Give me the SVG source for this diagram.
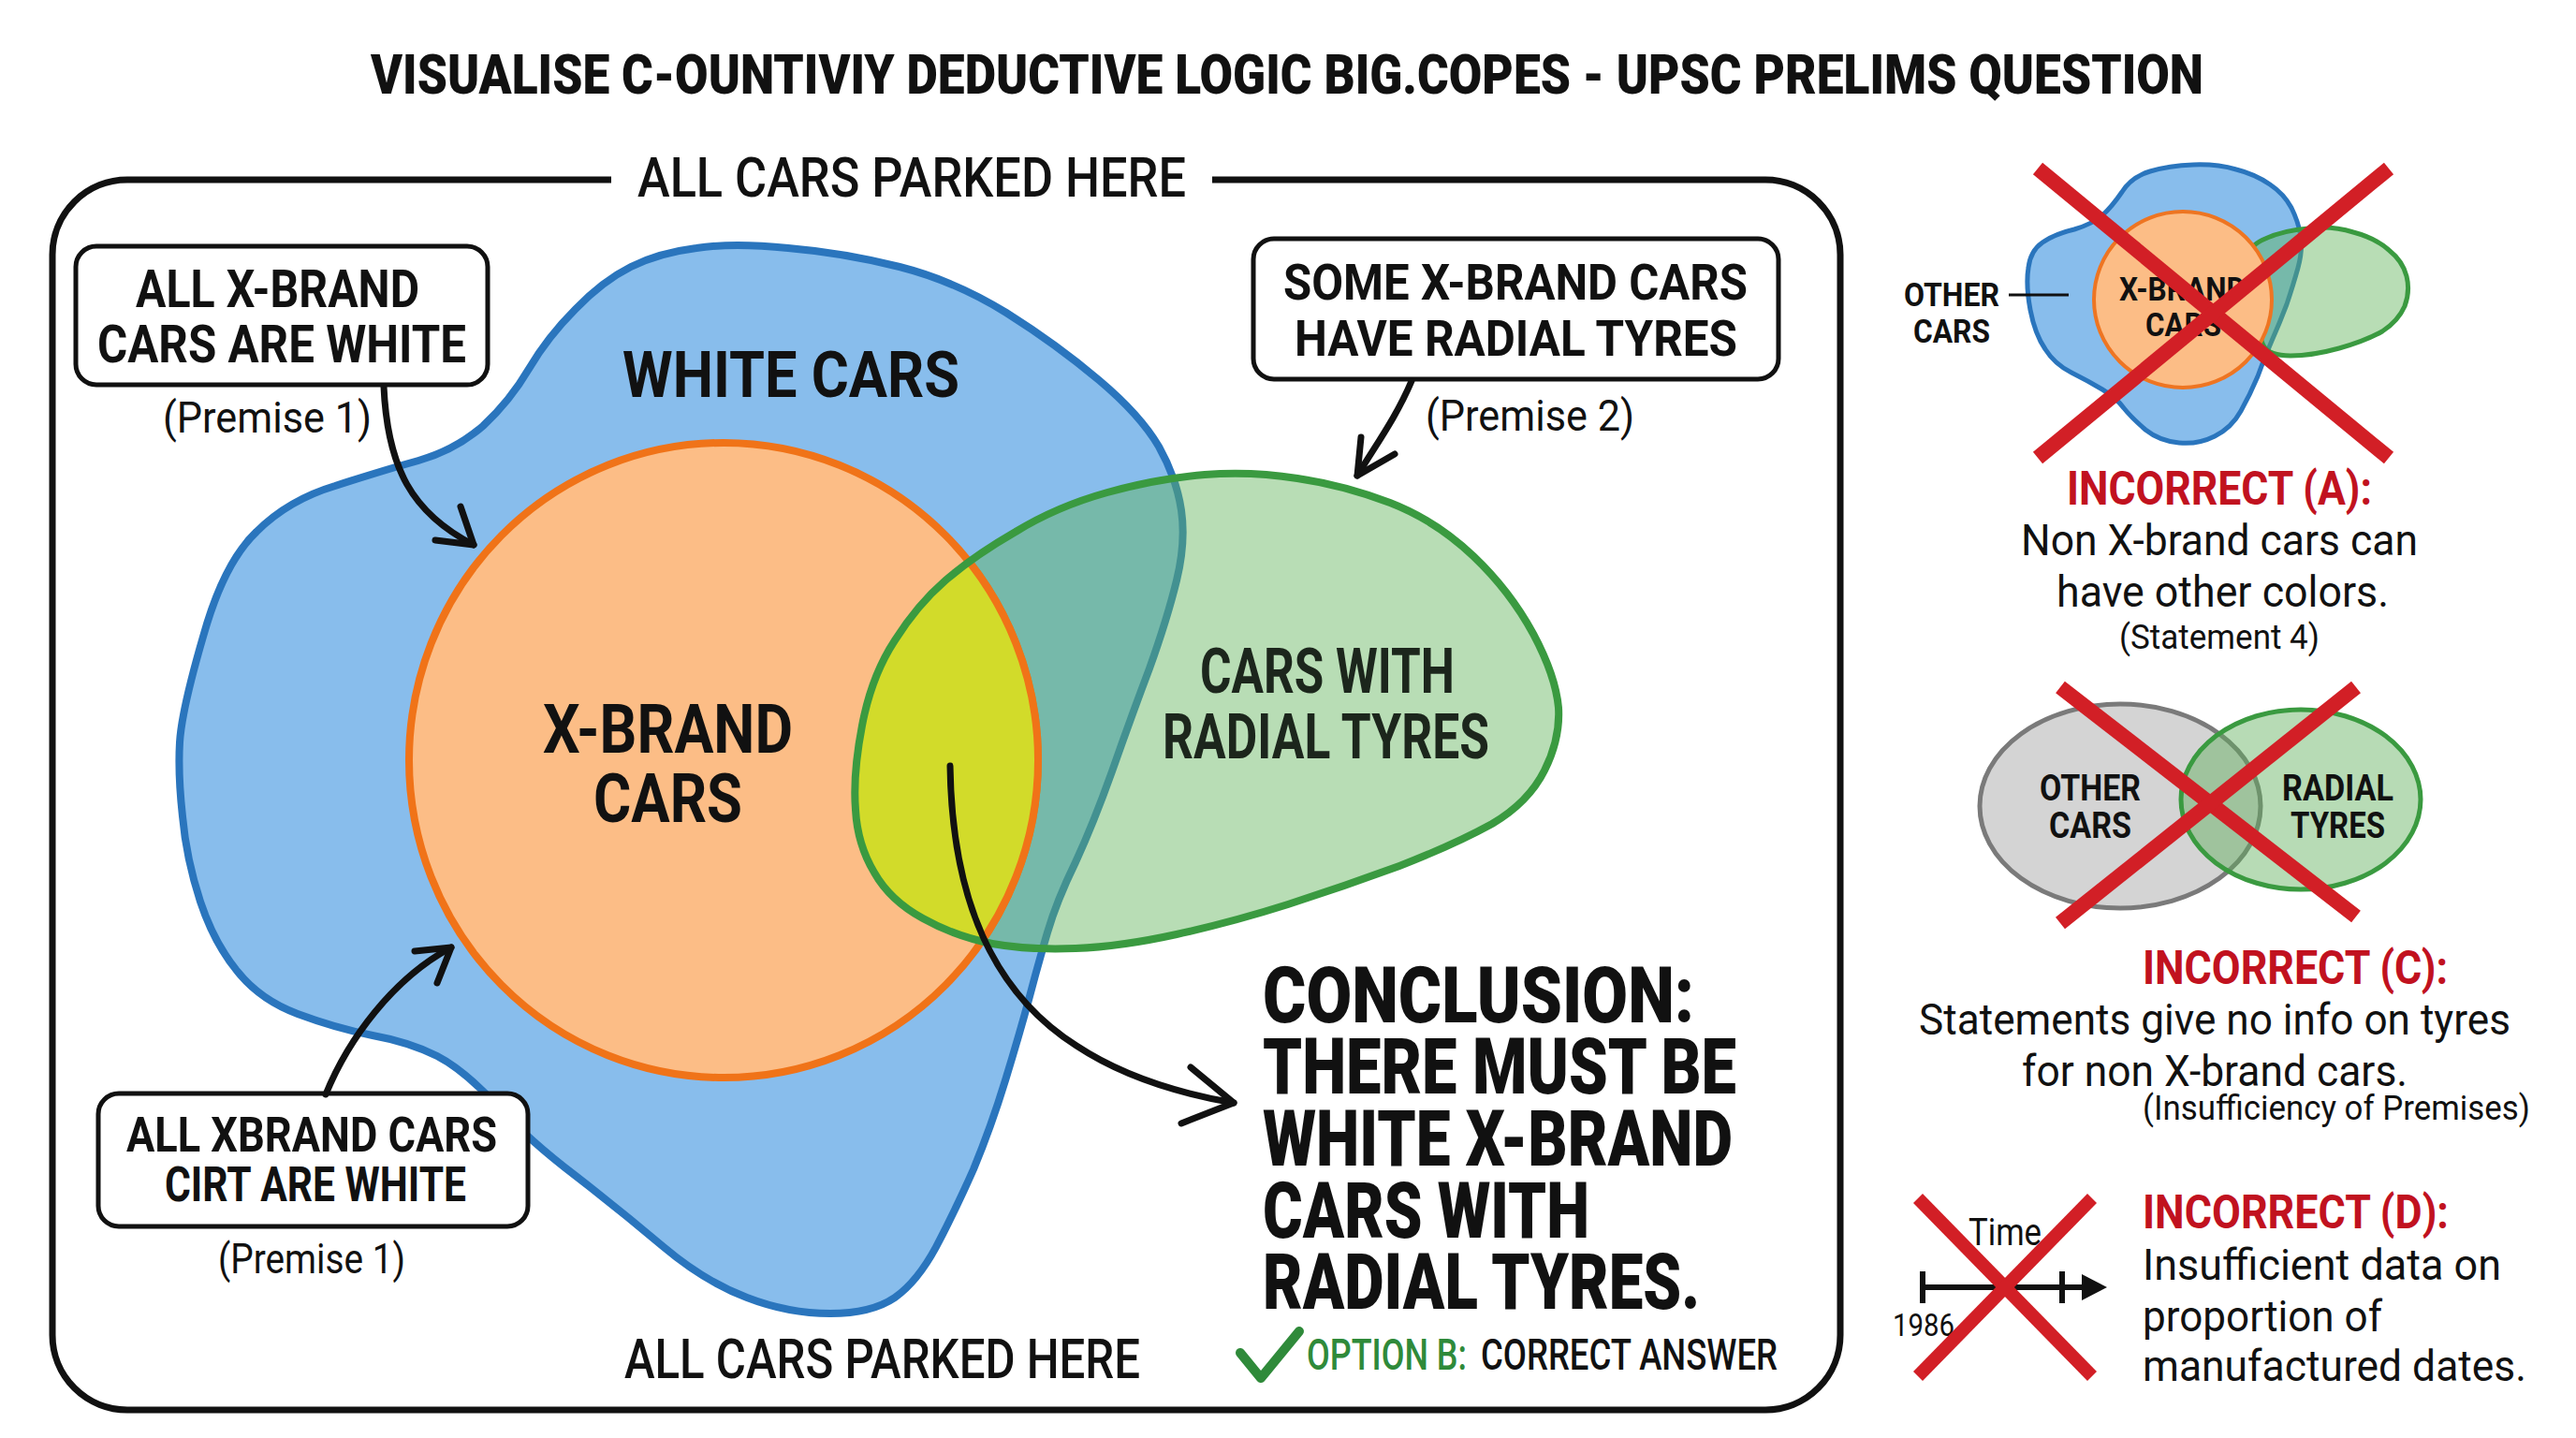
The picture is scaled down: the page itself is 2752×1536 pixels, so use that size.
<svg xmlns="http://www.w3.org/2000/svg" width="2752" height="1536" viewBox="0 0 2752 1536">
<style>
text{font-family:Roboto,"Liberation Sans",sans-serif;fill:#111}
.b{font-weight:700}.k{font-weight:900}.m{font-weight:500}.r{font-weight:400}
.red{fill:#c1121f}.grn{fill:#2f8a3a}
.box{fill:#fff;stroke:#111;stroke-width:5}
.arr{fill:none;stroke:#111;stroke-width:7;stroke-linecap:round;stroke-linejoin:round}
.x{stroke:#d21f26;stroke-width:16;stroke-linecap:butt}
</style>
<defs>
<path id="blue" d="M192,793 Q194,759 217,680 Q239,601 274,568 Q308,534 358,519 Q407,503 447,492 Q486,481 516,455 Q545,428 565,394 Q585,360 615,330 Q644,300 674,285 Q704,270 744,265 Q783,259 842,265 Q901,270 961,285 Q1020,300 1075,334 Q1129,368 1174,406 Q1218,443 1238,477 Q1257,511 1262,545 Q1267,579 1257,620 Q1247,661 1228,714 Q1208,767 1188,824 Q1168,880 1149,921 Q1129,962 1119,996 Q1109,1030 1099,1068 Q1089,1105 1074,1154 Q1059,1203 1040,1249 Q1020,1294 1000,1332 Q980,1369 956,1386 Q931,1403 887,1403 Q842,1403 798,1386 Q753,1369 709,1332 Q664,1294 615,1256 Q565,1218 531,1181 Q496,1143 467,1128 Q437,1113 398,1106 Q358,1098 318,1083 Q278,1068 254,1038 Q229,1008 214,963 Q199,917 195,872 Q190,827 192,793 Z"/>
<path id="green" d="M914,865 Q911,827 921,775 Q931,722 956,684 Q980,646 1010,620 Q1040,594 1085,568 Q1129,541 1183,526 Q1237,511 1287,507 Q1336,503 1386,511 Q1435,518 1485,537 Q1534,556 1574,594 Q1613,631 1638,677 Q1662,722 1665,756 Q1667,789 1650,823 Q1633,857 1594,880 Q1554,902 1495,925 Q1435,947 1376,966 Q1316,985 1257,998 Q1198,1011 1149,1013 Q1099,1015 1060,1008 Q1020,1000 986,981 Q951,962 934,932 Q916,902 914,865 Z"/>
<ellipse id="orange" cx="773" cy="812" rx="336" ry="339"/>
<clipPath id="clipGreen"><use href="#green"/></clipPath>
</defs>
<rect width="2752" height="1536" fill="#fff"/>

<g id="title"><text class="k" x="396" y="100" font-size="60" textLength="1958" lengthAdjust="spacingAndGlyphs">VISUALISE C-OUNTIVIY DEDUCTIVE LOGIC BIG.COPES - UPSC PRELIMS QUESTION</text></g>

<g id="frame">
<path d="M653,192 L136,192 A80,80 0 0 0 56,272 L56,1426 A80,80 0 0 0 136,1506 L1886,1506 A80,80 0 0 0 1966,1426 L1966,272 A80,80 0 0 0 1886,192 L1295,192" fill="none" stroke="#111" stroke-width="7"/>
<text class="m" x="681" y="210" font-size="60" textLength="586" lengthAdjust="spacingAndGlyphs">ALL CARS PARKED HERE</text>
<text class="m" x="667" y="1472" font-size="60" textLength="551" lengthAdjust="spacingAndGlyphs">ALL CARS PARKED HERE</text>
</g>

<g id="white-cars">
<use href="#blue" fill="#88bdec" stroke="#2a75bd" stroke-width="8"/>
</g>
<g id="xbrand-cars">
<use href="#orange" fill="#fcbd86" stroke="#f07318" stroke-width="8"/>
</g>
<g id="radial-tyres">
<use href="#green" fill="#62b35c" fill-opacity="0.45"/>
<use href="#orange" fill="#d2db2a" clip-path="url(#clipGreen)"/>
<use href="#orange" fill="none" stroke="#f07318" stroke-width="8" clip-path="url(#clipGreen)"/>
<use href="#green" fill="none" stroke="#3a9a40" stroke-width="8"/>
</g>
<g id="venn-labels">
<text class="b" x="665" y="424" font-size="69" textLength="360" lengthAdjust="spacingAndGlyphs">WHITE CARS</text>
<text class="b" x="580" y="804" font-size="73" textLength="267" lengthAdjust="spacingAndGlyphs">X-BRAND</text>
<text class="b" x="634" y="878" font-size="73" textLength="159" lengthAdjust="spacingAndGlyphs">CARS</text>
<text class="b" x="1282" y="740" font-size="66" textLength="272" lengthAdjust="spacingAndGlyphs" style="fill:#1c261c">CARS WITH</text>
<text class="b" x="1242" y="810" font-size="66" textLength="349" lengthAdjust="spacingAndGlyphs" style="fill:#1c261c">RADIAL TYRES</text>
</g>

<g id="premise1-top">
<rect class="box" x="81" y="263" width="440" height="148" rx="22"/>
<text class="b" x="145" y="328" font-size="56" textLength="303" lengthAdjust="spacingAndGlyphs">ALL X-BRAND</text>
<text class="b" x="104" y="387" font-size="56" textLength="394" lengthAdjust="spacingAndGlyphs">CARS ARE WHITE</text>
<text class="r" x="174" y="462" font-size="46" textLength="223" lengthAdjust="spacingAndGlyphs">(Premise 1)</text>
</g>

<g id="premise2">
<rect class="box" x="1339" y="255" width="561" height="150" rx="22"/>
<text class="b" x="1371" y="320" font-size="54" textLength="496" lengthAdjust="spacingAndGlyphs">SOME X-BRAND CARS</text>
<text class="b" x="1383" y="380" font-size="54" textLength="473" lengthAdjust="spacingAndGlyphs">HAVE RADIAL TYRES</text>
<text class="r" x="1523" y="460" font-size="46" textLength="223" lengthAdjust="spacingAndGlyphs">(Premise 2)</text>
</g>

<g id="premise1-bottom">
<rect class="box" x="105" y="1168" width="459" height="142" rx="22"/>
<text class="b" x="135" y="1230" font-size="52" textLength="396" lengthAdjust="spacingAndGlyphs">ALL XBRAND CARS</text>
<text class="b" x="176" y="1283" font-size="52" textLength="322" lengthAdjust="spacingAndGlyphs">CIRT ARE WHITE</text>
<text class="r" x="233" y="1360" font-size="44" textLength="200" lengthAdjust="spacingAndGlyphs">(Premise 1)</text>
</g>

<g id="conclusion">
<text class="k" x="1349" y="1092" font-size="83" textLength="461" lengthAdjust="spacingAndGlyphs">CONCLUSION:</text>
<text class="k" x="1349" y="1168" font-size="83" textLength="506" lengthAdjust="spacingAndGlyphs">THERE MUST BE</text>
<text class="k" x="1349" y="1245" font-size="83" textLength="502" lengthAdjust="spacingAndGlyphs">WHITE X-BRAND</text>
<text class="k" x="1349" y="1322" font-size="83" textLength="349" lengthAdjust="spacingAndGlyphs">CARS WITH</text>
<text class="k" x="1349" y="1398" font-size="83" textLength="467" lengthAdjust="spacingAndGlyphs">RADIAL TYRES.</text>
<polyline points="1325,1445 1347,1472 1388,1422" fill="none" stroke="#2f8a3a" stroke-width="10" stroke-linecap="round" stroke-linejoin="round"/>
<text class="m grn" x="1396" y="1463" font-size="46" textLength="171" lengthAdjust="spacingAndGlyphs">OPTION B:</text>
<text class="m" x="1582" y="1463" font-size="46" textLength="317" lengthAdjust="spacingAndGlyphs">CORRECT ANSWER</text>
</g>

<g id="connectors">
<path class="arr" d="M410,413 C414,500 440,548 506,582"/>
<path class="arr" d="M492,541 L506,582 L465,577"/>
<path class="arr" d="M1508,407 C1492,445 1470,475 1450,508"/>
<path class="arr" d="M1454,467 L1450,508 L1490,485"/>
<path class="arr" d="M348,1169 C372,1110 420,1045 482,1012"/>
<path class="arr" d="M443,1016 L482,1012 L467,1050"/>
<path class="arr" d="M1015,818 C1017,960 1060,1060 1150,1117 C1200,1150 1260,1168 1318,1178"/>
<path class="arr" d="M1272,1140 L1318,1178 L1262,1200"/>
</g>

<g id="option-a">
<path d="M2169,331 Q2164,304 2167,286 Q2169,268 2182,259 Q2195,250 2216,245 Q2236,239 2246,230 Q2256,221 2267,205 Q2277,189 2297,183 Q2317,177 2343,176 Q2368,175 2389,181 Q2409,186 2425,197 Q2440,207 2448,222 Q2455,236 2458,252 Q2460,268 2455,286 Q2450,304 2443,325 Q2435,346 2427,364 Q2419,382 2412,402 Q2404,421 2394,439 Q2384,457 2366,466 Q2348,475 2328,473 Q2307,471 2292,459 Q2277,446 2269,436 Q2261,425 2246,416 Q2231,407 2213,398 Q2195,389 2185,373 Q2174,357 2169,331 Z" fill="#88bdec" stroke="#2a75bd" stroke-width="5"/>
<path d="M2402,279 Q2399,264 2420,255 Q2440,246 2466,244 Q2491,241 2514,248 Q2537,254 2552,267 Q2567,279 2571,295 Q2575,311 2569,327 Q2562,343 2545,354 Q2527,364 2499,372 Q2470,380 2447,380 Q2424,380 2418,369 Q2412,357 2416,339 Q2419,321 2412,307 Q2404,293 2402,279 Z" fill="#62b35c" fill-opacity="0.45" stroke="#3a9a40" stroke-width="5"/>
<ellipse cx="2332" cy="320" rx="95" ry="94" fill="#fcbd86" stroke="#ee7522" stroke-width="4"/>
<text class="b" x="2264" y="321" font-size="35" textLength="135" lengthAdjust="spacingAndGlyphs">X-BRAND</text>
<text class="b" x="2292" y="359" font-size="35" textLength="81" lengthAdjust="spacingAndGlyphs">CARS</text>
<text class="b" x="2034" y="327" font-size="35" textLength="102" lengthAdjust="spacingAndGlyphs">OTHER</text>
<text class="b" x="2044" y="366" font-size="35" textLength="82" lengthAdjust="spacingAndGlyphs">CARS</text>
<line x1="2146" y1="315" x2="2210" y2="315" stroke="#111" stroke-width="3"/>
<line class="x" x1="2177" y1="180" x2="2552" y2="489"/>
<line class="x" x1="2552" y1="180" x2="2177" y2="489"/>
<text class="b red" x="2208" y="539" font-size="50" textLength="326" lengthAdjust="spacingAndGlyphs">INCORRECT (A):</text>
<text class="r" x="2159" y="593" font-size="46" textLength="424" lengthAdjust="spacingAndGlyphs">Non X-brand cars can</text>
<text class="r" x="2197" y="648" font-size="46" textLength="355" lengthAdjust="spacingAndGlyphs">have other colors.</text>
<text class="r" x="2264" y="693" font-size="36" textLength="214" lengthAdjust="spacingAndGlyphs">(Statement 4)</text>
</g>

<g id="option-c">
<ellipse cx="2265" cy="861" rx="150" ry="109" fill="#d4d4d4" stroke="#7a7a7a" stroke-width="5"/>
<ellipse cx="2458" cy="854" rx="128" ry="96" fill="#5fb05a" fill-opacity="0.45" stroke="#3a9a40" stroke-width="5"/>
<text class="b" x="2179" y="855" font-size="38" textLength="108" lengthAdjust="spacingAndGlyphs">OTHER</text>
<text class="b" x="2189" y="895" font-size="38" textLength="88" lengthAdjust="spacingAndGlyphs">CARS</text>
<text class="b" x="2438" y="855" font-size="38" textLength="119" lengthAdjust="spacingAndGlyphs">RADIAL</text>
<text class="b" x="2447" y="895" font-size="38" textLength="101" lengthAdjust="spacingAndGlyphs">TYRES</text>
<line class="x" x1="2201" y1="734" x2="2517" y2="979"/>
<line class="x" x1="2517" y1="734" x2="2201" y2="986"/>
<text class="b red" x="2289" y="1051" font-size="50" textLength="326" lengthAdjust="spacingAndGlyphs">INCORRECT (C):</text>
<text class="r" x="2050" y="1105" font-size="46" textLength="632" lengthAdjust="spacingAndGlyphs">Statements give no info on tyres</text>
<text class="r" x="2160" y="1160" font-size="46" textLength="412" lengthAdjust="spacingAndGlyphs">for non X-brand cars.</text>
<text class="r" x="2289" y="1196" font-size="36" textLength="414" lengthAdjust="spacingAndGlyphs">(Insufficiency of Premises)</text>
</g>

<g id="option-d">
<line x1="2054" y1="1375" x2="2228" y2="1375" stroke="#111" stroke-width="6"/>
<line x1="2054" y1="1358" x2="2054" y2="1392" stroke="#111" stroke-width="6"/>
<line x1="2203" y1="1358" x2="2203" y2="1392" stroke="#111" stroke-width="6"/>
<polygon points="2224,1361 2251,1375 2224,1389" fill="#111"/>
<text class="r" x="2103" y="1330" font-size="40" textLength="78" lengthAdjust="spacingAndGlyphs">Time</text>
<text class="r" x="2022" y="1427" font-size="34" textLength="66" lengthAdjust="spacingAndGlyphs">1986</text>
<line class="x" x1="2049" y1="1280" x2="2235" y2="1470" style="stroke-width:14"/>
<line class="x" x1="2235" y1="1280" x2="2049" y2="1470" style="stroke-width:14"/>
<text class="b red" x="2289" y="1312" font-size="50" textLength="327" lengthAdjust="spacingAndGlyphs">INCORRECT (D):</text>
<text class="r" x="2289" y="1367" font-size="46" textLength="383" lengthAdjust="spacingAndGlyphs">Insufficient data on</text>
<text class="r" x="2289" y="1422" font-size="46" textLength="256" lengthAdjust="spacingAndGlyphs">proportion of</text>
<text class="r" x="2289" y="1475" font-size="46" textLength="410" lengthAdjust="spacingAndGlyphs">manufactured dates.</text>
</g>
</svg>
